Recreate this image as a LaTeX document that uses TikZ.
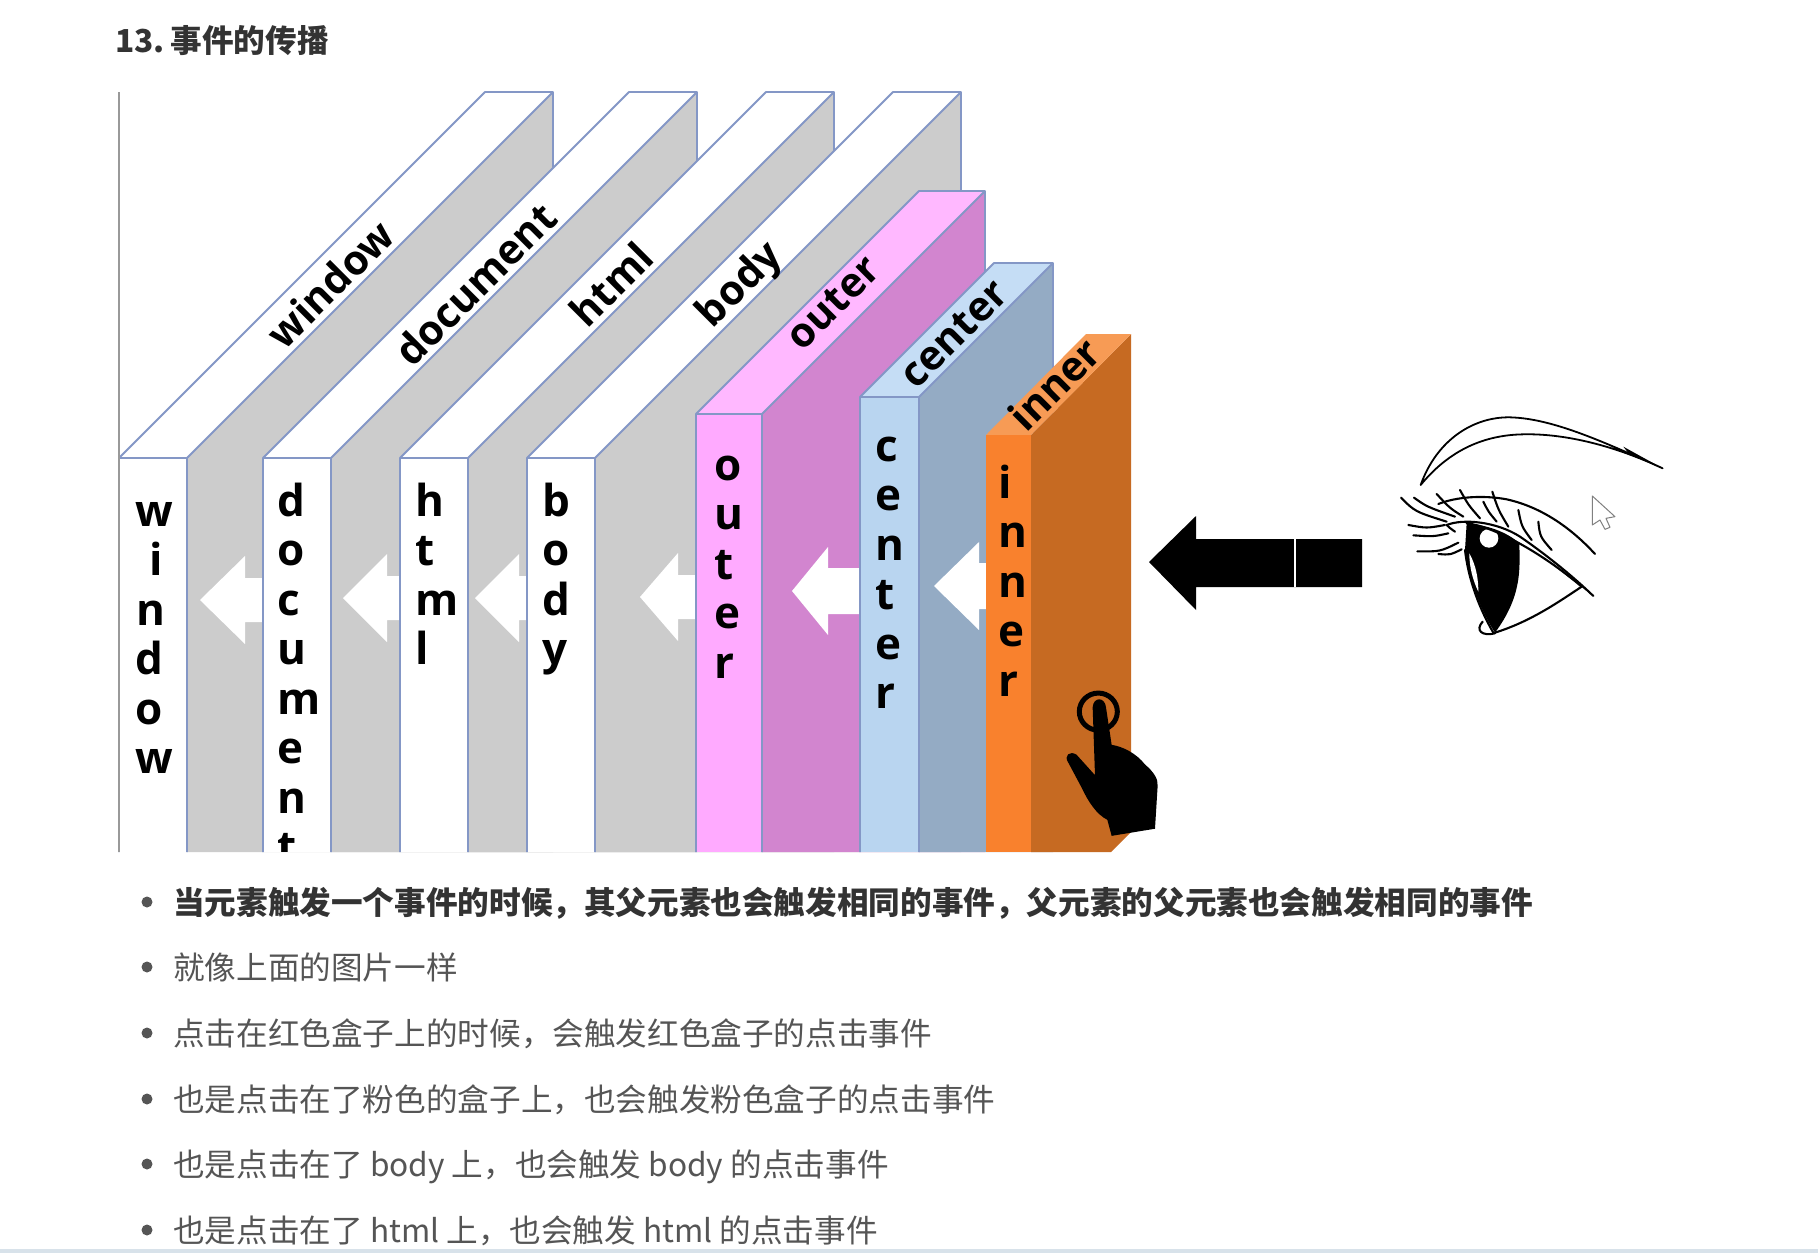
\documentclass[tikz,border=0pt]{standalone}
\usepackage{fontspec}
\setmainfont{Open Sans}
\newfontfamily\cjk{Noto Sans CJK SC}
\definecolor{edgeblue}{HTML}{8497C6}
\definecolor{greyside}{HTML}{CCCCCC}
\definecolor{pinkfront}{HTML}{FFAAFF}
\definecolor{pinktop}{HTML}{FFB8FF}
\definecolor{pinkside}{HTML}{D285CF}
\definecolor{bluefront}{HTML}{B9D5F0}
\definecolor{bluetop}{HTML}{C5DDF5}
\definecolor{blueside}{HTML}{94ABC4}
\definecolor{orangefront}{HTML}{F9812D}
\definecolor{orangetop}{HTML}{F79B55}
\definecolor{orangeside}{HTML}{C66A22}
\definecolor{bodytext}{HTML}{555555}
\definecolor{headtext}{HTML}{333333}
\definecolor{bandcol}{HTML}{D8E2EA}
\tikzset{
  vletter/.style={anchor=base west,inner sep=0pt,font=\fontsize{44}{44}\selectfont\bfseries,text=black},
  toplabel/.style={inner sep=0pt,rotate=45,font=\fontsize{41}{41}\selectfont\bfseries,text=black},
  listline/.style={anchor=base west,inner sep=0pt,font=\cjk\fontsize{31.62}{36}\selectfont,text=bodytext},
  listbold/.style={anchor=base west,inner sep=0pt,font=\cjk\fontsize{31.62}{36}\selectfont\bfseries,text=headtext},
  dotmark/.style={circle,fill=bodytext,inner sep=0pt,minimum size=11pt},
  whitearrow/.style={fill=white,draw=none},
  eyeline/.style={draw=black,line width=2.1pt,line cap=round,line join=round}
}
% left, right, front top, depth, front colour, top colour, side colour, edge colour
\newcommand{\slabshape}[8]{%
  \fill[#7] ({#2},{#3}) -- ({#2+#4},{#3-#4}) -- ({#2+#4},852) -- ({#2},852) -- cycle;
  \fill[#6] ({#1},{#3}) -- ({#1+#4},{#3-#4}) -- ({#2+#4},{#3-#4}) -- ({#2},{#3}) -- cycle;
  \fill[#5] ({#1},{#3}) rectangle ({#2},852);
  \draw[#8,line width=1.9pt,line join=round]
    ({#1},852) -- ({#1},{#3}) -- ({#1+#4},{#3-#4}) -- ({#2+#4},{#3-#4}) -- ({#2+#4},{#3-#4+120})
    ({#1},{#3}) -- ({#2},{#3}) -- ({#2},852)
    ({#2},{#3}) -- ({#2+#4},{#3-#4});
}
\newcommand{\vword}[4]{%
  \foreach \a/\b [count=\i] in {#4} {
    \node[vletter,name=#1-\i] at ({#2+\b},{#3+(\i-1)*49.5}) {\a};
  }%
}
\newcommand{\leftarrowshape}[6]{% tip, head base, end, centre, head half, shaft half
  \fill[whitearrow] ({#1},{#4}) -- ({#2},{#4-#5}) -- ({#2},{#4-#6}) -- ({#3},{#4-#6}) -- ({#3},{#4+#6}) -- ({#2},{#4+#6}) -- ({#2},{#4+#5}) -- cycle;
}
\begin{document}
\begin{tikzpicture}[x=1pt,y=-1pt]
\useasboundingbox (0,0) rectangle (1818,1253);
\fill[white] (0,0) rectangle (1818,1253);
% slabs
\slabshape{119}{187}{458}{366}{white}{white}{greyside}{edgeblue}
\draw[black!40,line width=1.9pt] (119,92) -- (119,852);
\leftarrowshape{200}{245}{263}{600}{44}{22}
\slabshape{263}{331}{458}{366}{white}{white}{greyside}{edgeblue}
\leftarrowshape{343}{387}{400}{598}{44}{22}
\slabshape{400}{468}{458}{366}{white}{white}{greyside}{edgeblue}
\leftarrowshape{475}{519}{527}{598}{44}{22}
\slabshape{527}{595}{458}{366}{white}{white}{greyside}{edgeblue}
\leftarrowshape{640}{678}{696}{597}{44}{22}
\slabshape{696}{762}{414}{223}{pinkfront}{pinktop}{pinkside}{edgeblue}
\leftarrowshape{792}{828}{860}{591}{44}{23}
\slabshape{860}{919}{397}{134}{bluefront}{bluetop}{blueside}{edgeblue}
\leftarrowshape{934}{979}{986}{586}{44}{23}
% inner slab
\fill[orangeside] (1031,435) -- (1131,334) -- (1131,832) -- (1111,852) -- (1031,852) -- cycle;
\fill[orangetop] (986,435) -- (1086,334) -- (1131,334) -- (1031,435) -- cycle;
\fill[orangefront] (986,435) rectangle (1031,852);
% rotated labels
\node[toplabel] (lwindow) at (330,284) {window};
\node[toplabel] (ldocument) at (475,284) {document};
\node[toplabel] (lhtml) at (611,284) {html};
\node[toplabel] (lbody) at (741,286) {body};
\node[toplabel] (louter) at (833,303) {outer};
\node[toplabel] (lcenter) at (954,334) {center};
\node[toplabel] (linner) at (1054,384) {inner};
% vertical labels
\begin{scope}
\clip (100,400) rectangle (1200,851);
\vword{vwindow}{135}{526}{w/0,i/14,n/1,d/0,o/0,w/0}
\vword{vdocument}{277}{516}{d/0,o/0,c/0,u/0,m/0,e/0,n/0,t/0}
\vword{vhtml}{415}{516}{h/0,t/0,m/0,l/0}
\vword{vbody}{542}{516}{b/0,o/0,d/0,y/0}
\vword{vouter}{714}{480}{o/0,u/0,t/0,e/0,r/0}
\vword{vcenter}{875}{461}{c/0,e/0,n/0,t/0,e/0,r/0}
\vword{vinner}{998}{498}{i/0,n/0,n/0,e/0,r/0}
\end{scope}
% hand
\begin{scope}[shift={(960,320)},x=0.3333pt,y=-0.357pt]
\draw[black,line width=5pt] (415,1097) ellipse [x radius=57,y radius=52];
\fill[black] (398,1085) .. controls (400,1055) and (435,1055) .. (438,1085)
  -- (455,1190) .. controls (490,1195) and (530,1215) .. (555,1245)
  .. controls (580,1265) and (595,1285) .. (593,1305) -- (585,1425) -- (455,1445)
  -- (442,1400) .. controls (410,1385) and (385,1350) .. (365,1310)
  -- (325,1240) .. controls (310,1220) and (330,1205) .. (350,1218)
  -- (405,1275) -- cycle;
\end{scope}
% black arrow
\fill[black] (1149,562) -- (1196,516) -- (1196,539) -- (1362,539) -- (1362,587) -- (1196,587) -- (1196,610) -- cycle;
\draw[white,line width=1.5pt] (1295,539) -- (1295,587);
% eye
\begin{scope}[shift={(1340,390)},x=0.3333pt,y=-0.3333pt]
\draw[eyeline,line width=1.8pt] (242,285) .. controls (290,150) and (400,80) .. (510,82) .. controls (640,85) and (800,160) .. (968,235) .. controls (830,170) and (680,130) .. (550,133) .. controls (420,135) and (320,190) .. (242,285) -- cycle;
\fill[black] (850,170) -- (968,235) -- (870,195) -- cycle;
\draw[eyeline] (295,342) .. controls (350,320) and (430,315) .. (500,328) .. controls (600,350) and (690,410) .. (765,492);
\fill[black] (380,400) .. controls (440,405) and (500,425) .. (538,460) .. controls (540,540) and (545,620) .. (465,728) .. controls (420,660) and (385,560) .. (375,480) -- cycle;
\fill[white] (447,445) circle [radius=28];
\fill[white] (388,490) .. controls (410,530) and (415,570) .. (415,605) .. controls (398,570) and (388,530) .. (388,490) -- cycle;
\draw[eyeline] (320,405) .. controls (370,385) and (470,395) .. (540,440) .. controls (620,495) and (700,560) .. (760,618);
\draw[eyeline] (345,425) .. controls (330,415) and (325,410) .. (320,405);
\draw[eyeline] (380,400) .. controls (470,410) and (620,500) .. (725,590);
\fill[black] (620,510) -- (725,590) -- (760,618) -- (690,565) -- cycle;
\draw[eyeline] (375,480) .. controls (385,570) and (420,660) .. (460,728);
\draw[eyeline] (465,728) .. controls (570,695) and (650,640) .. (725,590);
\draw[eyeline] (428,695) .. controls (405,720) and (425,740) .. (465,730);
\foreach \pa/\pb/\pc in {
  {(183,323)}/{(225,365)}/{(320,395)},
  {(222,323)}/{(260,350)}/{(345,380)},
  {(290,312)}/{(330,355)}/{(370,380)},
  {(360,300)}/{(385,345)}/{(420,385)},
  {(430,335)}/{(445,365)}/{(470,395)},
  {(457,305)}/{(475,360)}/{(505,410)},
  {(535,360)}/{(545,410)}/{(575,450)},
  {(595,395)}/{(600,440)}/{(635,480)},
  {(205,405)}/{(260,415)}/{(315,405)},
  {(220,436)}/{(280,440)}/{(325,430)},
  {(232,484)}/{(300,485)}/{(355,458)},
  {(295,492)}/{(330,495)}/{(365,478)}} {
  \draw[eyeline] \pa .. controls \pb .. \pc;
}
\draw[gray,fill=white,line width=1pt,line join=round] (757,318) -- (757,405) -- (780,390) -- (795,418) -- (810,412) -- (798,385) -- (825,380) -- cycle;
\end{scope}
% text
\node[listbold] (title) at (115,52) {{\spaceskip=3.5pt 13. }事件的传播};
\node[dotmark] (b1) at (147,902) {};
\node[dotmark] (b2) at (147,967) {};
\node[dotmark] (b3) at (147,1033) {};
\node[dotmark] (b4) at (147,1099) {};
\node[dotmark] (b5) at (147,1164) {};
\node[dotmark] (b6) at (147,1230) {};
\node[listbold] (t1) at (173,914) {当元素触发一个事件的时候，其父元素也会触发相同的事件，父元素的父元素也会触发相同的事件};
\node[listline] (t2) at (173,979) {就像上面的图片一样};
\node[listline] (t3) at (173,1045) {点击在红色盒子上的时候，会触发红色盒子的点击事件};
\node[listline] (t4) at (173,1111) {也是点击在了粉色的盒子上，也会触发粉色盒子的点击事件};
\node[listline] (t5) at (173,1176) {也是点击在了 body 上，也会触发 body 的点击事件};
\node[listline] (t6) at (173,1242) {也是点击在了 html 上，也会触发 html 的点击事件};
\fill[bandcol] (0,1249) rectangle (1818,1253);
\end{tikzpicture}
\end{document}
